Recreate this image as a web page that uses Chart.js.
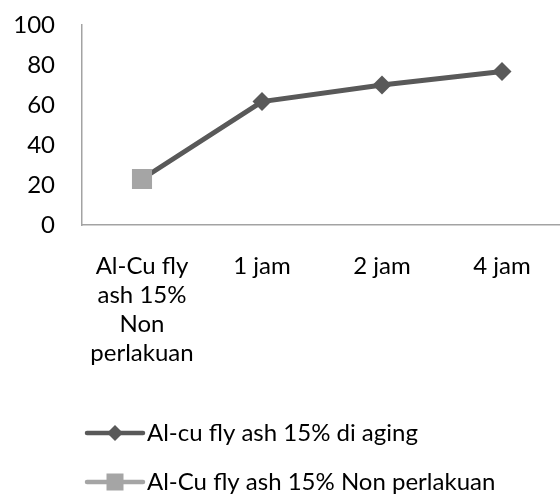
<!DOCTYPE html>
<html>
<head>
<meta charset="utf-8">
<script src="https://cdn.jsdelivr.net/npm/chart.js@4/dist/chart.umd.min.js"></script>
<style>
  html, body { margin: 0; padding: 0; overflow: hidden; background: #fff; }
  #wrap { width: 562px; height: 494px; }
</style>
</head>
<body>
<div id="wrap"><canvas id="c"></canvas></div>
<script>
// Hardness after aging, compared with the untreated Al-Cu / fly ash 15% sample
const categories = [["Al-Cu fly", "ash 15%", "Non", "perlakuan"], "1 jam", "2 jam", "4 jam"];
const agingValues = [23, 61.7, 70, 76.7];
const untreatedValues = [23, null, null, null];
const seriesNames = ["Al-cu fly ash 15% di aging", "Al-Cu fly ash 15% Non perlakuan"];
const yTicks = [0, 20, 40, 60, 80, 100];

const FONT = "Lato, 'Open Sans', sans-serif";
const DARK = "#595959";
const LIGHT = "#A5A5A5";
const AXIS = "#A3A3A3";

// Axis boxes keep a fixed size; the plot area is placed by layout padding only
function noPad(scale) {
  scale.paddingLeft = 0;
  scale.paddingRight = 0;
  scale.paddingTop = 0;
  scale.paddingBottom = 0;
}

// Legend stacked under the chart, one series per row, line + marker sample
const stackedLegend = {
  id: "stackedLegend",
  afterDraw(chart) {
    const ctx = chart.ctx;
    const rows = [
      { ds: chart.data.datasets[1], y: 433 },
      { ds: chart.data.datasets[0], y: 482 }
    ];
    ctx.save();
    rows.forEach(({ ds, y }) => {
      const x0 = 87, x1 = 143, cx = (x0 + x1) / 2;
      ctx.strokeStyle = ds.borderColor;
      ctx.lineWidth = 4.5;
      ctx.lineCap = "round";
      ctx.beginPath();
      ctx.moveTo(x0, y);
      ctx.lineTo(x1, y);
      ctx.stroke();
      ctx.fillStyle = ds.pointBackgroundColor;
      ctx.beginPath();
      if (ds.pointStyle === "rectRot") {
        const r = 8;
        ctx.moveTo(cx - r, y);
        ctx.lineTo(cx, y - r);
        ctx.lineTo(cx + r, y);
        ctx.lineTo(cx, y + r);
        ctx.closePath();
      } else {
        ctx.rect(cx - 8.5, y - 8.5, 17, 17);
      }
      ctx.fill();
      ctx.fillStyle = "#000";
      ctx.font = "24px " + FONT;
      ctx.textAlign = "left";
      ctx.textBaseline = "middle";
      ctx.fillText(ds.label, 147, y);
    });
    ctx.restore();
  }
};

new Chart(document.getElementById("c"), {
  type: "line",
  data: {
    labels: categories,
    datasets: [
      {
        label: seriesNames[1],
        data: untreatedValues,
        borderColor: LIGHT,
        backgroundColor: LIGHT,
        pointBackgroundColor: LIGHT,
        pointBorderWidth: 0,
        pointStyle: "rect",
        pointRadius: 14.2,
        borderWidth: 5,
        order: 0
      },
      {
        label: seriesNames[0],
        data: agingValues,
        borderColor: DARK,
        backgroundColor: DARK,
        pointBackgroundColor: DARK,
        pointBorderWidth: 0,
        pointStyle: "rectRot",
        pointRadius: 9.5,
        borderWidth: 5,
        order: 1
      }
    ]
  },
  options: {
    responsive: true,
    maintainAspectRatio: false,
    animation: false,
    events: [],
    layout: { autoPadding: false, padding: { top: 25, left: 0, right: 0, bottom: 0 } },
    plugins: {
      legend: { display: false },
      tooltip: { enabled: false }
    },
    scales: {
      x: {
        offset: true,
        grid: { display: false, drawTicks: false },
        border: { display: true, color: AXIS, width: 1.5 },
        ticks: {
          color: "#000",
          padding: 27,
          maxRotation: 0,
          autoSkip: false,
          font: { family: FONT, size: 24, lineHeight: 1.2 }
        },
        afterFit(scale) {
          scale.height = 269;
          noPad(scale);
        }
      },
      y: {
        min: 0,
        max: 100,
        afterBuildTicks(scale) { scale.ticks = yTicks.map(v => ({ value: v })); },
        grid: { display: false, drawTicks: false },
        border: { display: true, color: AXIS, width: 1.5 },
        ticks: {
          color: "#000",
          padding: 27,
          font: { family: FONT, size: 24 }
        },
        afterFit(scale) {
          scale.width = 82;
          noPad(scale);
        }
      }
    }
  },
  plugins: [stackedLegend]
});
</script>
</body>
</html>
